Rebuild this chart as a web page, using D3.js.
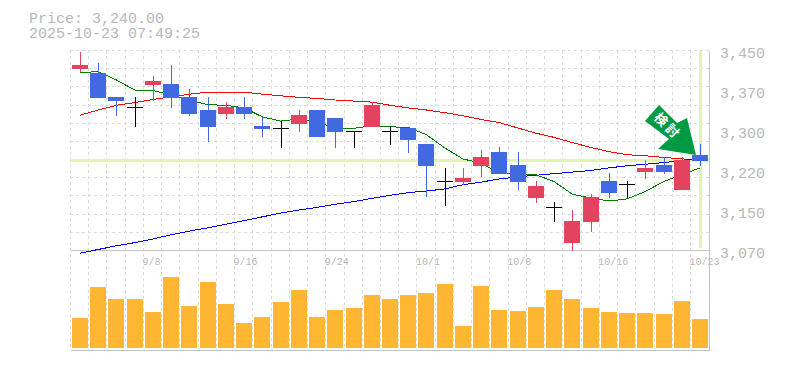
<!DOCTYPE html>
<html>
<head>
<meta charset="utf-8">
<script src="https://d3js.org/d3.v7.min.js"></script>
<style>
html, body { margin: 0; padding: 0; background: #fff; }
svg { display: block; }
text { font-family: "Liberation Mono", monospace; fill: #b8b8b8; }
.grid line { stroke: #dcdcdc; stroke-dasharray: 3,3; shape-rendering: crispEdges; }
</style>
</head>
<body>
<div id="chart"></div>
<script>
const dates = ['9/2','9/3','9/4','9/5','9/8','9/9','9/10','9/11','9/12','9/16','9/17','9/18','9/19','9/22','9/24','9/25','9/26','9/29','9/30','10/1','10/2','10/3','10/6','10/7','10/8','10/9','10/10','10/14','10/15','10/16','10/17','10/20','10/21','10/22','10/23'];
const opens  = [3414,3406,3361,3341,3384,3385,3361,3336,3328,3342,3306,3301,3309,3336,3321,3296,3304,3296,3302,3271,3201,3199,3230,3256,3232,3169,3151,3083,3123,3201,3195,3218,3232,3184,3251];
const highs  = [3446,3425,3361,3361,3401,3422,3376,3361,3351,3361,3323,3315,3336,3336,3321,3296,3351,3306,3302,3271,3226,3226,3260,3266,3256,3201,3161,3146,3176,3216,3201,3241,3247,3247,3271];
const lows   = [3408,3359,3325,3304,3353,3340,3325,3275,3319,3319,3285,3264,3294,3285,3264,3264,3304,3270,3254,3171,3154,3194,3209,3214,3184,3159,3123,3069,3104,3169,3169,3205,3214,3184,3230];
const closes = [3422,3359,3353,3341,3391,3359,3328,3304,3342,3328,3300,3301,3327,3285,3294,3296,3346,3296,3279,3230,3201,3207,3247,3214,3199,3192,3151,3125,3171,3178,3195,3226,3218,3241,3240];
const maShort = [3407,3409,3393,3374,3373,3365,3355,3346,3345,3340,3323,3315,3319,3313,3302,3301,3306,3304,3303,3289,3264,3243,3235,3216,3214,3213,3200,3176,3169,3163,3167,3181,3200,3213,3226];
const maMid   = [3326,3336,3345,3350,3356,3361,3366,3370,3370,3370,3366,3363,3360,3358,3355,3353,3351,3345,3340,3336,3331,3325,3318,3312,3302,3292,3284,3274,3265,3257,3251,3249,3246,3243,3242];
const maLong  = [3064,3071,3078,3084,3091,3099,3106,3112,3119,3126,3133,3140,3146,3151,3157,3162,3168,3174,3179,3182,3186,3194,3199,3205,3209,3212,3215,3218,3221,3226,3230,3233,3236,3240,3244];
const volume = [30,61,49,49,36,71,42,66,44,25,31,46,58,31,38,40,53,49,53,55,64,22,62,38,37,41,58,49,40,36,35,35,34,47,29];
const priceTicks = [3450,3374,3298,3222,3146,3070];
const dateTicks = ['9/8','9/16','9/24','10/1','10/8','10/16','10/23'];
const currentPrice = 3240;

const width = 785, height = 370;
const plotLeft = 70, plotRight = 709, plotTop = 50, priceBottom = 250, volBottom = 350;

const svg = d3.select("#chart").append("svg")
    .attr("width", width)
    .attr("height", height);

const x = d3.scalePoint().domain(dates).range([80, 700]);
const px = d => Math.round(x(d)) + 0.5;
const y = d3.scaleLinear().domain([3450, 3070]).range([plotTop, priceBottom]);
const yVol = d3.scaleLinear().domain([0, 100]).range([348, 248]);

// grid
const grid = svg.append("g").attr("class", "grid");
grid.selectAll(".gv")
    .data(dates)
    .enter().append("line")
    .attr("x1", d => Math.round(x(d)) - 9.5)
    .attr("x2", d => Math.round(x(d)) - 9.5)
    .attr("y1", plotTop)
    .attr("y2", volBottom);
grid.selectAll(".gh")
    .data(d3.range(0, 11))
    .enter().append("line")
    .attr("x1", plotLeft)
    .attr("x2", plotRight)
    .attr("y1", i => Math.round(y(3450 - i * 380 / 11)) + 0.5)
    .attr("y2", i => Math.round(y(3450 - i * 380 / 11)) + 0.5);

// current price cross
svg.append("line")
    .attr("x1", plotLeft).attr("x2", plotRight + 1)
    .attr("y1", y(currentPrice)).attr("y2", y(currentPrice))
    .attr("stroke", "#e4f5aa").attr("stroke-width", 3)
    .style("shape-rendering", "crispEdges");
svg.append("line")
    .attr("x1", px('10/23')).attr("x2", px('10/23'))
    .attr("y1", plotTop + 1).attr("y2", priceBottom - 2)
    .attr("stroke", "#e4f5aa").attr("stroke-width", 3)
    .style("shape-rendering", "crispEdges");

// frame
const frame = [[plotLeft, priceBottom, plotRight + 1, priceBottom], [plotLeft, volBottom, plotRight + 1, volBottom], [plotRight, plotTop, plotRight, volBottom]];
svg.selectAll(".frame")
    .data(frame)
    .enter().append("line")
    .attr("x1", d => d[0] + 0.5).attr("y1", d => d[1] + 0.5)
    .attr("x2", d => d[2] + 0.5).attr("y2", d => d[3] + 0.5)
    .attr("stroke", "#c4c4c4")
    .style("shape-rendering", "crispEdges");

// volume
svg.selectAll(".vol")
    .data(dates)
    .enter().append("rect")
    .attr("x", d => Math.round(x(d)) - 8)
    .attr("width", 16)
    .attr("y", (d, i) => yVol(volume[i]))
    .attr("height", (d, i) => yVol(0) - yVol(volume[i]))
    .attr("fill", "#ffb733");

// moving averages
const drawLine = (values, color) => {
    const line = d3.line()
        .x((d, i) => x(dates[i]))
        .y(d => y(d));
    svg.append("path")
        .attr("d", line(values))
        .attr("fill", "none")
        .attr("stroke", color)
        .attr("stroke-width", 1)
        .style("shape-rendering", "crispEdges");
};
drawLine(maMid, "#ff0000");
drawLine(maLong, "#0000ff");
drawLine(maShort, "#008000");

// candles
const candleColor = i => closes[i] > opens[i] ? "#e3435f" : closes[i] < opens[i] ? "#4169e1" : "#000000";
const candles = svg.append("g").style("shape-rendering", "crispEdges");
candles.selectAll(".wick")
    .data(dates)
    .enter().append("line")
    .attr("x1", d => px(d)).attr("x2", d => px(d))
    .attr("y1", (d, i) => y(highs[i]))
    .attr("y2", (d, i) => y(lows[i]))
    .attr("stroke", (d, i) => candleColor(i));
candles.selectAll(".body")
    .data(dates)
    .enter().append("rect")
    .attr("x", d => Math.round(x(d)) - 8)
    .attr("width", 16)
    .attr("y", (d, i) => y(Math.max(opens[i], closes[i])))
    .attr("height", (d, i) => Math.max(1, Math.abs(y(opens[i]) - y(closes[i]))))
    .attr("fill", (d, i) => candleColor(i));

// signal arrow
const arrow = svg.append("g");
arrow.append("polygon")
    .attr("points", "659,105 645,121 669,139 658,149 696,155 687,118 677,123")
    .attr("fill", "#009944");
arrow.append("text")
    .attr("transform", "translate(667,127) rotate(45)")
    .attr("text-anchor", "middle")
    .attr("dominant-baseline", "middle")
    .style("font-family", '"Noto Sans CJK JP"')
    .style("font-size", "13px")
    .style("letter-spacing", "3px")
    .style("font-weight", "bold")
    .style("fill", "#fff")
    .text("検討");

// axes
const yAxis = d3.axisRight(y)
    .tickValues(priceTicks)
    .tickSize(0)
    .tickPadding(10)
    .tickFormat(d => d3.format(",")(Math.round(d / 10) * 10));
const yg = svg.append("g").attr("transform", `translate(${plotRight + 1},3)`).call(yAxis);
yg.select(".domain").remove();
yg.selectAll("text").style("font-size", "15px").style("font-family", '"Liberation Mono"').attr("fill", "#b8b8b8");

const xAxis = d3.axisBottom(x).tickValues(dateTicks).tickSize(0).tickPadding(0);
const xg = svg.append("g").attr("transform", `translate(0,${priceBottom + 8})`).call(xAxis);
xg.select(".domain").remove();
xg.selectAll("text")
    .attr("text-anchor", "start")
    .attr("dx", -11)
    .style("font-size", "10px")
    .style("font-family", '"Liberation Mono"')
    .attr("fill", "#b8b8b8");

// header
svg.append("text").attr("x", 29).attr("y", 23).style("font-size", "15px")
    .text("Price: " + d3.format(",.2f")(currentPrice));
svg.append("text").attr("x", 29).attr("y", 38).style("font-size", "15px")
    .text("2025-10-23 07:49:25");
</script>
</body>
</html>
